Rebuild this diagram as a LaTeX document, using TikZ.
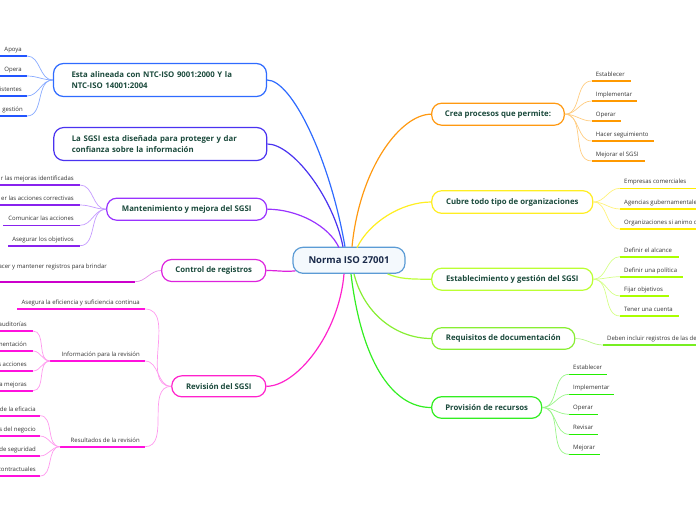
\documentclass[tikz,border=0pt]{standalone}
\usepackage{fontspec}
\setmainfont{Open Sans}
\usetikzlibrary{calc}
\definecolor{maingreen}{HTML}{1B4A3C}
\definecolor{centertext}{HTML}{1A2A4A}
\definecolor{leafgray}{HTML}{333333}
\definecolor{cborder}{HTML}{5B9BD5}
\definecolor{cfill}{HTML}{F4F9FD}
% trunk / node colours
\definecolor{tblue}{HTML}{2F6BFF}
\definecolor{tindigo}{HTML}{4A33F0}
\definecolor{tviolet}{HTML}{9933FF}
\definecolor{tmagenta}{HTML}{DD22DD}
\definecolor{tpink}{HTML}{FF22CC}
\definecolor{torange}{HTML}{FF9911}
\definecolor{tyellow}{HTML}{FFEE22}
\definecolor{tlime}{HTML}{BBFF33}
\definecolor{tgreenA}{HTML}{88EE33}
\definecolor{tgreenB}{HTML}{33EE22}
% light link colours
\definecolor{lblue}{HTML}{88AAFF}
\definecolor{lviolet}{HTML}{C49AFF}
\definecolor{lmagenta}{HTML}{E58BE8}
\definecolor{lpink}{HTML}{FF99EE}
\definecolor{lorange}{HTML}{FFCC80}
\definecolor{lyellow}{HTML}{FFF27A}
\definecolor{llime}{HTML}{D5FF88}
\definecolor{lgreenA}{HTML}{B8F58A}
\definecolor{lgreenB}{HTML}{99F588}
% underline colours
\definecolor{ublue}{HTML}{2255FF}
\definecolor{uviolet}{HTML}{8822EE}
\definecolor{umagenta}{HTML}{CC00CC}
\definecolor{upink}{HTML}{FF11DD}
\definecolor{uorange}{HTML}{FF9900}
\definecolor{uyellow}{HTML}{FFEE00}
\definecolor{ulime}{HTML}{AAFF00}
\definecolor{ugreenA}{HTML}{77EE22}
\definecolor{ugreenB}{HTML}{22EE00}
\tikzset{
  mainnode/.style={draw=#1, line width=1.2pt, rounded corners=10pt, fill=white,
    text=maingreen, font=\bfseries\fontsize{7.8}{11}\selectfont, inner sep=0pt, align=center},
  centernode/.style={draw=cborder, line width=1.2pt, rounded corners=10pt, fill=cfill,
    text=centertext, font=\bfseries\fontsize{9.5}{11}\selectfont, inner sep=0pt,
    minimum width=112pt, minimum height=26pt},
  leaftext/.style={font=\fontsize{6}{7}\selectfont, text=leafgray, inner sep=0pt},
  uline/.style={draw=#1, line width=1.6pt},
  lk/.style={draw=#1, line width=0.7pt},
  trunk/.style={draw=#1, line width=1.2pt},
}
% leaf on the right of its parent: name, x1, x2, y, ulcolour, text
\newcommand\leafRight[6]{%
  \coordinate (#1a) at (#2,#4);
  \coordinate (#1b) at (#3,#4);
  \draw[uline=#5] (#1a) -- (#1b);
  \node[leaftext, anchor=base west] (#1) at (#2+4,#4-4.5) {#6};
}
% leaf on the left of its parent: name, x1, x2, y, ulcolour, text, text right x
\newcommand\leafLeft[7]{%
  \coordinate (#1a) at (#2,#4);
  \coordinate (#1b) at (#3,#4);
  \draw[uline=#5] (#1a) -- (#1b);
  \node[leaftext, anchor=base east] (#1) at (#7,#4-4.5) {#6};
}
\begin{document}
\begin{tikzpicture}[x=1pt,y=-1pt]
\useasboundingbox (0,0) rectangle (696,520);

% ---------- main nodes ----------
\node[centernode] (c) at (349,260.3) {Norma ISO 27001};

\node[mainnode=tblue, minimum height=33pt, text width=177pt, inner xsep=18pt, align=left] (n1) at (160,80)
  {Esta alineada con NTC-ISO 9001:2000 Y la\\NTC-ISO 14001:2004};
\node[mainnode=tindigo, minimum height=33pt, text width=177pt, inner xsep=18pt, align=left] (n2) at (160.3,144)
  {La SGSI esta diseñada para proteger y dar\\confianza sobre la información};
\node[mainnode=tviolet, minimum width=160pt, minimum height=22pt] (n3) at (186.7,209.2) {Mantenimiento y mejora del SGSI};
\node[mainnode=tmagenta, minimum width=104pt, minimum height=22pt] (n4) at (213.7,270.5) {Control de registros};
\node[mainnode=tpink, minimum width=94pt, minimum height=21pt] (n5) at (218.8,386.3) {Revisión del SGSI};

\node[mainnode=torange, minimum width=132.6pt, minimum height=22pt] (r1) at (498,114.2) {Crea procesos que permite:};
\node[mainnode=tyellow, minimum width=161pt, minimum height=22.6pt] (r2) at (512.3,202) {Cubre todo tipo de organizaciones};
\node[mainnode=tlime, minimum width=161pt, minimum height=22pt] (r3) at (512.3,279.2) {Establecimiento y gestión del SGSI};
\node[mainnode=tgreenA, minimum width=143pt, minimum height=21.6pt] (r4) at (503.3,338.5) {Requisitos de documentación};
\node[mainnode=tgreenB, minimum width=110pt, minimum height=21.6pt] (r5) at (486.7,407.5) {Provisión de recursos};

% ---------- trunks ----------
\draw[trunk=tblue] ([xshift=-4pt]c.north) .. controls +(-15,-87) and +(25,0) .. (n1.east);
\draw[trunk=tindigo] ([xshift=-6pt]c.north) .. controls +(-10,-50) and +(25,0) .. (n2.east);
\draw[trunk=tviolet] ([xshift=-10pt,yshift=-1pt]c.north) .. controls +(-10,-22) and +(30,0) .. (n3.east);
\draw[trunk=tmagenta] ([xshift=3pt,yshift=3pt]c.south west) .. controls +(-12,1) and +(12,0) .. (n4.east);
\draw[trunk=tpink] ([xshift=-5pt]c.south) .. controls +(-5,60) and +(30,0) .. (n5.east);
\draw[trunk=torange] ([xshift=3pt]c.north) .. controls +(8,-80) and +(-30,0) .. (r1.west);
\draw[trunk=tyellow] ([xshift=8pt,yshift=-1pt]c.north) .. controls +(12,-25) and +(-30,0) .. (r2.west);
\draw[trunk=tlime] ([xshift=-18pt]c.south east) .. controls +(12,5) and +(-22,0) .. (r3.west);
\draw[trunk=tgreenA] ([xshift=5pt]c.south) .. controls +(10,40) and +(-35,0) .. (r4.west);
\draw[trunk=tgreenB] ([xshift=2pt]c.south) .. controls +(10,85) and +(-40,0) .. (r5.west);

% ---------- left leaves: blue ----------
\leafLeft{bA}{0}{27}{56}{ublue}{Apoya}{22}
\leafLeft{bB}{0}{27}{76}{ublue}{Opera}{22}
\leafLeft{bC}{0}{27}{96}{ublue}{istentes}{22}
\leafLeft{bD}{0}{27}{116}{ublue}{gestión}{23}
\foreach \l in {bA,bB,bC,bD} \draw[lk=lblue] (n1.west) to[out=180,in=0] (\l b);

% ---------- violet ----------
\leafLeft{vA}{0}{80}{185}{uviolet}{r las mejoras identificadas}{74}
\leafLeft{vB}{0}{80}{205}{uviolet}{er las acciones correctivas}{74}
\leafLeft{vC}{3}{80}{225.3}{uviolet}{Comunicar las acciones}{74}
\leafLeft{vD}{8}{80}{245.7}{uviolet}{Asegurar los objetivos}{74}
\foreach \l in {vA,vB,vC,vD} \draw[lk=lviolet] (n3.west) to[out=180,in=0] (\l b);

% ---------- magenta ----------
\coordinate (mAa) at (0,281.7);
\coordinate (mAb) at (135,281.7);
\draw[uline=umagenta] (mAa) -- (mAb);
\node[leaftext, anchor=base east] (mA) at (107,268.5) {acer y mantener registros para brindar};
\draw[lk=lmagenta] (n4.west) to[out=180,in=0] (mAb);

% ---------- pink ----------
\leafLeft{pA}{17}{145}{309}{upink}{Asegura la eficiencia y suficiencia continua}{140}
\leafLeft{pB}{50}{145}{361}{upink}{Información para la revisión}{140}
\leafLeft{pC}{60}{145}{446.7}{upink}{Resultados de la revisión}{140}
\foreach \l in {pA,pB,pC} \draw[lk=lpink] (n5.west) to[out=180,in=0] (\l b);

\leafLeft{pBA}{0}{33}{331}{upink}{auditorías}{27}
\leafLeft{pBB}{0}{33}{351}{upink}{mentación}{27}
\leafLeft{pBC}{0}{33}{371}{upink}{s acciones}{27}
\leafLeft{pBD}{0}{33}{390.7}{upink}{a mejoras}{27}
\foreach \l in {pBA,pBB,pBC,pBD} \draw[lk=lpink] (pBa) to[out=180,in=0] (\l b);

\leafLeft{pCA}{0}{40}{415.7}{upink}{de la eficacia}{36}
\leafLeft{pCB}{0}{40}{436}{upink}{s del negocio}{36}
\leafLeft{pCC}{0}{40}{456}{upink}{de seguridad}{36}
\leafLeft{pCD}{0}{40}{476}{upink}{contractuales}{36}
\foreach \l in {pCA,pCB,pCC,pCD} \draw[lk=lpink] (pCa) to[out=180,in=0] (\l b);

% ---------- right leaves: orange ----------
\leafRight{oA}{591.7}{630.7}{81}{uorange}{Establecer}
\leafRight{oB}{591.7}{637}{101}{uorange}{Implementar}
\leafRight{oC}{591.7}{621}{121}{uorange}{Operar}
\leafRight{oD}{591.7}{654}{141}{uorange}{Hacer seguimiento}
\leafRight{oE}{591.7}{645}{161}{uorange}{Mejorar el SGSI}
\foreach \l in {oA,oB,oC,oD,oE} \draw[lk=lorange] (r1.east) to[out=0,in=180] (\l a);

% ---------- yellow ----------
\leafRight{yA}{620}{697}{188.3}{uyellow}{Empresas comerciales}
\leafRight{yB}{620}{697}{209}{uyellow}{Agencias gubernamentale}
\leafRight{yC}{620}{697}{229}{uyellow}{Organizaciones si animo d}
\foreach \l in {yA,yB,yC} \draw[lk=lyellow] (r2.east) to[out=0,in=180] (\l a);

% ---------- lime ----------
\leafRight{lA}{620}{679}{256.7}{ulime}{Definir el alcance}
\leafRight{lB}{620}{683}{276.7}{ulime}{Definir una política}
\leafRight{lC}{620}{669}{296}{ulime}{Fijar objetivos}
\leafRight{lD}{620}{679}{316}{ulime}{Tener una cuenta}
\foreach \l in {lA,lB,lC,lD} \draw[lk=llime] (r3.east) to[out=0,in=180] (\l a);

% ---------- green A ----------
\leafRight{gAA}{603}{697}{345}{ugreenA}{Deben incluir registros de las de}
\draw[lk=lgreenA] (r4.east) to[out=0,in=180] (gAAa);

% ---------- green B ----------
\leafRight{gBA}{569}{607}{374.3}{ugreenB}{Establecer}
\leafRight{gBB}{569}{614}{394.3}{ugreenB}{Implementar}
\leafRight{gBC}{569}{598}{414.3}{ugreenB}{Operar}
\leafRight{gBD}{569}{598}{434.3}{ugreenB}{Revisar}
\leafRight{gBE}{569}{600}{454.3}{ugreenB}{Mejorar}
\foreach \l in {gBA,gBB,gBC,gBD,gBE} \draw[lk=lgreenB] (r5.east) to[out=0,in=180] (\l a);

\end{tikzpicture}
\end{document}
